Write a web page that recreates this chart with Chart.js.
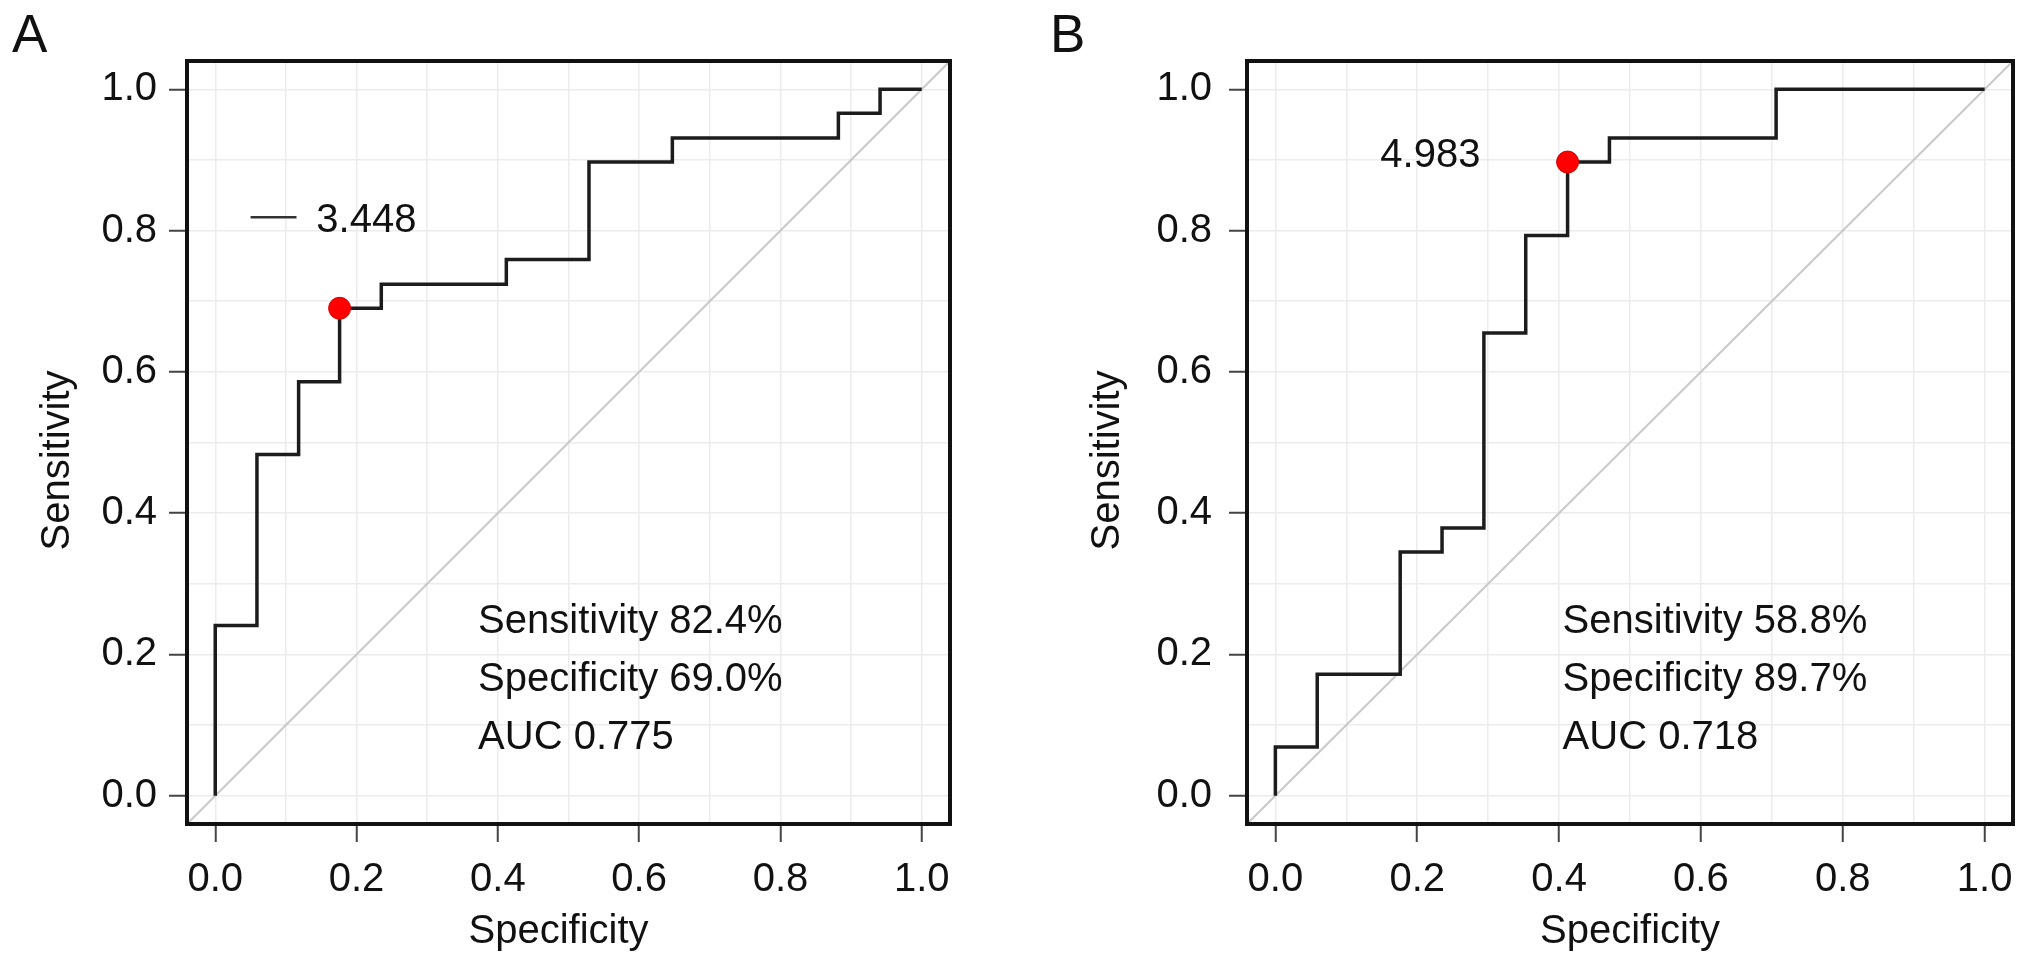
<!DOCTYPE html>
<html>
<head>
<meta charset="utf-8">
<script src="https://cdn.jsdelivr.net/npm/chart.js@4.4.1/dist/chart.umd.min.js"></script>
<style>
  html, body { margin: 0; padding: 0; background: #fff; }
  body { width: 2032px; height: 967px; position: relative; overflow: hidden; font-family: 'Liberation Sans', Arial, sans-serif; }
  .panel { position: absolute; top: 0; width: 1016px; height: 967px; }
  .tag { position: absolute; top: 3px; font-size: 53px; line-height: normal; color: #111; }
</style>
</head>
<body>
<div class="panel" style="left:0"><canvas id="rocA" width="1016" height="967"></canvas></div>
<div class="panel" style="left:1016px"><canvas id="rocB" width="1016" height="967"></canvas></div>
<div class="tag" style="left:12px">A</div>
<div class="tag" style="left:1050px">B</div>
<script>
// --- fuente y color por defecto (estilo R / Helvetica) ---
Chart.defaults.font.family = "'Liberation Sans', Arial, sans-serif";
Chart.defaults.font.size = 40;
Chart.defaults.color = '#111';

// --- datos ---
const gridValues = [0, 0.1, 0.2, 0.3, 0.4, 0.5, 0.6, 0.7, 0.8, 0.9, 1.0];
const tickValues = [0, 0.2, 0.4, 0.6, 0.8, 1.0];
const tickLabels = ['0.0', '0.2', '0.4', '0.6', '0.8', '1.0'];
const chanceLine = [-0.04, 1.04];
const xTitle = 'Specificity';
const yTitle = 'Sensitivity';

// panel A (vertices de la curva escalonada)
const specA = [0, 0, 0.059, 0.059, 0.118, 0.118, 0.176, 0.176, 0.235, 0.235, 0.412, 0.412, 0.529, 0.529, 0.647, 0.647, 0.882, 0.882, 0.941, 0.941, 1.0];
const sensA = [0, 0.241, 0.241, 0.483, 0.483, 0.586, 0.586, 0.690, 0.690, 0.724, 0.724, 0.759, 0.759, 0.897, 0.897, 0.931, 0.931, 0.966, 0.966, 1.0, 1.0];
const cutA = [0.176, 0.690];
const cutLabelA = '3.448';
const statsA = ['Sensitivity 82.4%', 'Specificity 69.0%', 'AUC 0.775'];

// panel B
const specB = [0, 0, 0.059, 0.059, 0.176, 0.176, 0.235, 0.235, 0.294, 0.294, 0.353, 0.353, 0.412, 0.412, 0.471, 0.471, 0.706, 0.706, 1.0];
const sensB = [0, 0.069, 0.069, 0.172, 0.172, 0.345, 0.345, 0.379, 0.379, 0.655, 0.655, 0.793, 0.793, 0.897, 0.897, 0.931, 0.931, 1.0, 1.0];
const cutB = [0.412, 0.897];
const cutLabelB = '4.983';
const statsB = ['Sensitivity 58.8%', 'Specificity 89.7%', 'AUC 0.718'];

function labelFor(v) {
    const i = tickValues.findIndex(t => Math.abs(t - v) < 1e-9);
    return i >= 0 ? tickLabels[i] : '';
}

// textos, títulos de ejes y marco negro
const notesPlugin = {
    id: 'notes',
    afterDatasetsDraw(chart, args, opts) {
        const { ctx, chartArea: a } = chart;
        const x = chart.scales.x, y = chart.scales.y;
        ctx.save();
        ctx.font = "40px 'Liberation Sans', Arial, sans-serif";
        ctx.fillStyle = '#111';
        ctx.textBaseline = 'alphabetic';
        ctx.textAlign = 'left';
        opts.lines.forEach((txt, i) => {
            ctx.fillText(txt, x.getPixelForValue(opts.linesAt[0]), y.getPixelForValue(opts.linesAt[1] - i * opts.lineStep));
        });
        ctx.fillText(opts.cutText, x.getPixelForValue(opts.cutAt[0]), y.getPixelForValue(opts.cutAt[1]));
        if (opts.dash) {
            ctx.strokeStyle = '#333';
            ctx.lineWidth = 2.5;
            ctx.beginPath();
            ctx.moveTo(x.getPixelForValue(opts.dash[0]), y.getPixelForValue(opts.dash[2]));
            ctx.lineTo(x.getPixelForValue(opts.dash[1]), y.getPixelForValue(opts.dash[2]));
            ctx.stroke();
        }

        // títulos de ejes
        ctx.textAlign = 'center';
        ctx.fillText(xTitle, (a.left + a.right) / 2 + opts.xTitleDx, chart.height - 24);
        ctx.save();
        ctx.translate(opts.yTitleX, (a.top + a.bottom) / 2 + 18);
        ctx.rotate(-Math.PI / 2);
        ctx.fillText(yTitle, 0, 0);
        ctx.restore();

        ctx.lineWidth = 4;
        ctx.strokeStyle = '#111';
        ctx.strokeRect(a.left, a.top, a.right - a.left, a.bottom - a.top);
        ctx.restore();
    }
};

function axis(isY, fitSize, tickPad) {
    return {
        type: 'linear',
        min: chanceLine[0],
        max: chanceLine[1],
        afterBuildTicks: s => { s.ticks = gridValues.map(v => ({ value: v })); },
        afterFit: s => { if (isY) s.width = fitSize; else s.height = fitSize; },
        grid: {
            color: '#ececec',
            lineWidth: 1.5,
            tickLength: 18,
            tickWidth: 2,
            tickColor: c => (c.tick && labelFor(c.tick.value)) ? '#444' : 'rgba(0,0,0,0)'
        },
        border: { display: false },
        ticks: { autoSkip: false, maxRotation: 0, padding: tickPad, color: '#111', callback: v => labelFor(v) },
        title: { display: false }
    };
}

function initRoc(id, xs, ys, cut, notes, frame) {
    const curve = xs.map((v, i) => ({ x: v, y: ys[i] }));
    return new Chart(document.getElementById(id).getContext('2d'), {
        type: 'scatter',
        data: {
            datasets: [
                { data: [{ x: cut[0], y: cut[1] }], pointRadius: 11, pointBackgroundColor: '#ff0000', pointBorderColor: '#d40000', pointBorderWidth: 1 },
                { data: curve, showLine: true, borderColor: '#1c1c1c', borderWidth: 3.5, pointRadius: 0, borderJoinStyle: 'miter' },
                { data: chanceLine.map(v => ({ x: v, y: v })), showLine: true, borderColor: '#c9c9c9', borderWidth: 2, pointRadius: 0 }
            ]
        },
        options: {
            responsive: false,
            animation: false,
            layout: { padding: { top: 61, right: frame.right, left: 0, bottom: 0 } },
            plugins: { legend: { display: false }, tooltip: { enabled: false }, notes: notes },
            scales: {
                x: axis(false, 143, 14),
                y: axis(true, frame.yWidth, frame.yTickPad)
            }
        },
        plugins: [notesPlugin]
    });
}

const rocA = initRoc('rocA', specA, sensA, cutA, {
    lines: statsA, linesAt: [0.372, 0.2306], lineStep: 0.082,
    cutText: cutLabelA, cutAt: [0.143, 0.798], dash: [0.05, 0.115, 0.819],
    xTitleDx: -10, yTitleX: 69
}, { right: 66, yWidth: 187, yTickPad: 12 });

const rocB = initRoc('rocB', specB, sensB, cutB, {
    lines: statsB, linesAt: [0.405, 0.2306], lineStep: 0.082,
    cutText: cutLabelB, cutAt: [0.148, 0.890], dash: null,
    xTitleDx: 0, yTitleX: 103
}, { right: 19, yWidth: 231, yTickPad: 17 });
</script>
</body>
</html>
